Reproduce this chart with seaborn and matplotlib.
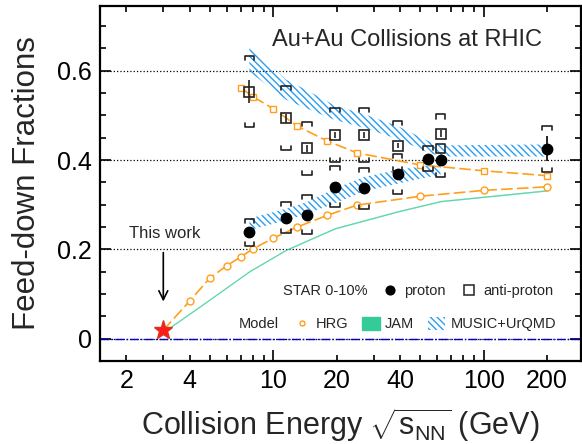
import numpy as np
import pandas as pd
import matplotlib
matplotlib.use('Agg')
import matplotlib.pyplot as plt
import seaborn as sns
from matplotlib.lines import Line2D
from matplotlib.patches import Patch

# STAR 0-10% Au+Au data
star_energy = [7.7, 11.5, 14.5, 19.6, 27, 39, 54.4, 62.4, 200]
proton_frac = [0.238, 0.271, 0.278, 0.340, 0.337, 0.369, 0.403, 0.399, 0.425]
proton_stat = [0.005, 0.005, 0.005, 0.005, 0.005, 0.005, 0.006, 0.006, 0.028]
proton_sys = [0.030, 0.034, 0.043, 0.046, 0.046, 0.045, 0.028, 0.037, 0.052]

pbar_energy = [7.7, 11.5, 14.5, 19.6, 27, 39, 62.4]
pbar_frac = [0.553, 0.494, 0.426, 0.456, 0.456, 0.432, 0.459]
pbar_stat = [0.026, 0.010, 0.008, 0.006, 0.006, 0.006, 0.008]
pbar_sys = [0.079, 0.071, 0.060, 0.060, 0.060, 0.056, 0.043]

# this work (3 GeV)
this_energy = [3.0]
this_frac = [0.019]

# HRG
hrg_p_energy = [3, 4, 5, 6, 7, 8, 10, 13, 18, 25, 50, 100, 200]
hrg_p_frac = [0.019, 0.084, 0.136, 0.163, 0.183, 0.201, 0.225, 0.250, 0.276, 0.299, 0.319, 0.332, 0.340]
hrg_pbar_energy = [7, 8, 10, 13, 18, 25, 50, 100, 200]
hrg_pbar_frac = [0.562, 0.542, 0.515, 0.476, 0.443, 0.416, 0.389, 0.376, 0.365]

# JAM
jam_energy = [3, 4.5, 7.7, 11.5, 19.6, 39, 62.4, 200]
jam_frac = [0.015, 0.073, 0.151, 0.199, 0.247, 0.285, 0.308, 0.332]

# MUSIC+UrQMD bands
music_p_energy = [7.7, 11.5, 14.5, 19.6, 27, 39, 54.4, 62.4]
music_p_low = [0.243, 0.265, 0.280, 0.303, 0.330, 0.347, 0.362, 0.365]
music_p_high = [0.269, 0.291, 0.306, 0.336, 0.362, 0.378, 0.388, 0.390]
music_pbar_energy = [7.7, 11.5, 14.5, 19.6, 27, 39, 54.4, 62.4, 200]
music_pbar_low = [0.598, 0.535, 0.515, 0.490, 0.472, 0.447, 0.417, 0.408, 0.408]
music_pbar_high = [0.654, 0.580, 0.556, 0.522, 0.503, 0.476, 0.443, 0.433, 0.435]

ORANGE = '#FF9F1C'
GREEN = '#33CC99'
BLUE = '#2A9DF4'
HATCH = '\\' * 5


def sys_brackets(ax, x, y, err, color='#222222'):
    # draws "[ ]" style systematic brackets
    x = np.asarray(x, float)
    xl, xr = x / 1.055, x * 1.055
    tick = 0.009
    xs, ys = [], []
    for a, b, yc, e in zip(xl, xr, y, err):
        top, bot = yc + e, yc - e
        xs += [a, a, b, b, np.nan, a, a, b, b, np.nan]
        ys += [top - tick, top, top, top - tick, np.nan, bot + tick, bot, bot, bot + tick, np.nan]
    ax.plot(xs, ys, color=color, lw=1.2, zorder=6)


sns.set_theme(style='ticks')
plt.rcParams['font.family'] = ['Liberation Sans', 'DejaVu Sans']
plt.rcParams['mathtext.fontset'] = 'custom'
plt.rcParams['mathtext.rm'] = 'Liberation Sans'
plt.rcParams['hatch.linewidth'] = 1.0
plt.rcParams['hatch.color'] = BLUE

fig, ax = plt.subplots(figsize=(5.82, 4.44), dpi=100)
fig.subplots_adjust(left=0.1718, right=0.998, bottom=0.187, top=0.9865)

# zero line
ax.axhline(0, color='#0000CC', lw=1.0, ls='-.', zorder=2)

# MUSIC+UrQMD hatched bands
ax.fill_between(music_p_energy, music_p_low, music_p_high, facecolor='none',
                edgecolor=BLUE, hatch=HATCH, linewidth=0, zorder=2)
ax.fill_between(music_pbar_energy, music_pbar_low, music_pbar_high, facecolor='none',
                edgecolor=BLUE, hatch=HATCH, linewidth=0, zorder=2)

# JAM thin band
jam = np.asarray(jam_frac)
ax.fill_between(jam_energy, jam - 0.001, jam + 0.001, color=GREEN, alpha=0.7,
                linewidth=0.4, zorder=3)

# HRG curves
hrg_p = pd.DataFrame({'energy': hrg_p_energy, 'frac': hrg_p_frac})
hrg_pbar = pd.DataFrame({'energy': hrg_pbar_energy, 'frac': hrg_pbar_frac})
sns.lineplot(data=hrg_p, x='energy', y='frac', ax=ax, color=ORANGE, lw=1.2,
             linestyle=(0, (7, 2.5)), marker='o', markersize=5,
             markerfacecolor='white', markeredgecolor=ORANGE, markeredgewidth=1.0, zorder=4)
sns.lineplot(data=hrg_pbar, x='energy', y='frac', ax=ax, color=ORANGE, lw=1.2,
             linestyle=(0, (7, 2.5)), marker='s', markersize=4.5,
             markerfacecolor='white', markeredgecolor=ORANGE, markeredgewidth=1.0, zorder=4)

# STAR points
sys_brackets(ax, pbar_energy, pbar_frac, pbar_sys)
sys_brackets(ax, star_energy, proton_frac, proton_sys)
ax.errorbar(pbar_energy, pbar_frac, yerr=pbar_stat, fmt='s', ms=7.8, mfc='none',
            mec='#222222', mew=1.2, ecolor='#222222', elinewidth=1.2, zorder=7)
ax.errorbar(star_energy, proton_frac, yerr=proton_stat, fmt='o', ms=7.5, mfc='black',
            mec='black', ecolor='black', elinewidth=1.2, zorder=8)

# this work
ax.plot(this_energy, this_frac, marker='*', ms=14, color='#FF1A1A', mec='#E0301E',
        ls='none', zorder=9)
ax.annotate('', xy=(this_energy[0], 0.077), xytext=(this_energy[0], 0.199),
            arrowprops=dict(arrowstyle='->', lw=1.2, color='black', mutation_scale=16))
ax.text(3.05, 0.236, 'This work', ha='center', va='center', fontsize=12)

ax.text(0.639, 0.904, 'Au+Au Collisions at RHIC', transform=ax.transAxes,
        ha='center', va='center', fontsize=17)

# axes
ax.set_xscale('log')
ax.set_xlim(1.5, 290)
ax.set_ylim(-0.045, 0.745)
ax.set_xticks([10, 100], labels=['10', '100'])
minor = [2, 3, 4, 5, 6, 7, 8, 9, 20, 30, 40, 50, 60, 70, 80, 90, 200]
minor_labels = [str(m) if m in (2, 4, 20, 40, 200) else '' for m in minor]
ax.set_xticks(minor, labels=minor_labels, minor=True)
ax.set_yticks([0, 0.2, 0.4, 0.6], labels=['0', '0.2', '0.4', '0.6'])
ax.set_yticks(np.arange(-0.05, 0.75, 0.05), minor=True)
ax.tick_params(which='both', direction='in', top=True, right=True, width=1.2,
               labelsize=18, colors='black')
ax.tick_params(which='major', length=8, pad=6)
ax.tick_params(which='minor', length=4.5, pad=6)
ax.grid(axis='y', which='major', ls=':', color='black', lw=0.9)
for s in ax.spines.values():
    s.set_linewidth(1.6)
    s.set_color('black')

ax.set_ylabel('Feed-down Fractions', fontsize=22.5)
ax.yaxis.set_label_coords(-0.121, 0.5)
ax.set_xlabel(r'Collision Energy $\sqrt{\mathrm{s}_{\mathrm{NN}}}$ (GeV)', fontsize=22)
ax.xaxis.set_label_coords(0.5, -0.128)

# legends
blank = Line2D([], [], ls='none')
h_star = [blank,
          Line2D([], [], ls='none', marker='o', ms=6.3, color='black'),
          Line2D([], [], ls='none', marker='s', ms=6.5, mfc='none', mec='#222222', mew=1.1)]
leg1 = ax.legend(h_star, ['STAR 0-10%', 'proton', 'anti-proton'], ncol=3, loc='center left',
                 bbox_to_anchor=(0.3326, 0.197), frameon=False, fontsize=10.5,
                 handlelength=1.2, handletextpad=0.35, columnspacing=1.0,
                 borderpad=0, borderaxespad=0)
ax.add_artist(leg1)
h_model = [blank,
           Line2D([], [], ls='none', marker='o', ms=3.6, mfc='white', mec=ORANGE, mew=1.0),
           Patch(facecolor=GREEN, edgecolor=GREEN),
           Patch(facecolor='none', edgecolor=BLUE, hatch=HATCH, linewidth=0)]
ax.legend(h_model, ['Model', 'HRG', 'JAM', 'MUSIC+UrQMD'], ncol=4, loc='center left',
          bbox_to_anchor=(0.2423, 0.104), frameon=False, fontsize=10.5,
          handlelength=1.2, handleheight=1.0, handletextpad=0.35, columnspacing=0.95,
          borderpad=0, borderaxespad=0)

fig.savefig('out.png', dpi=100)
